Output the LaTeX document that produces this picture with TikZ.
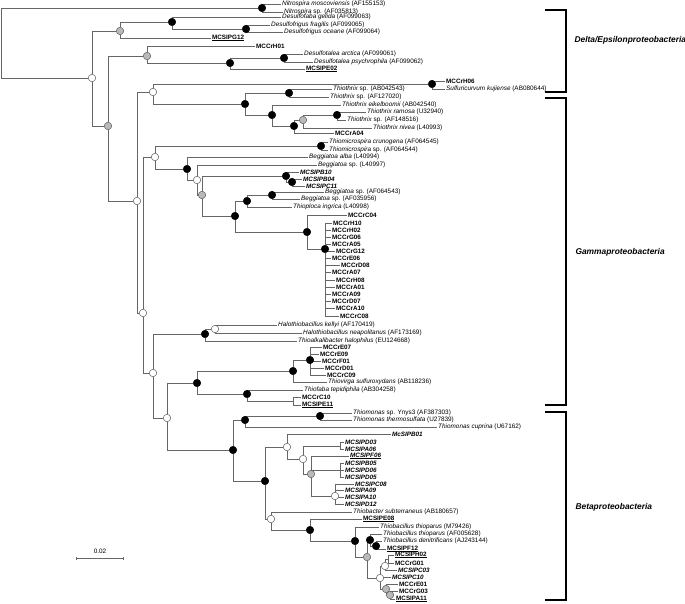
\documentclass[tikz,border=0pt]{standalone}
\usepackage{fontspec}
\setmainfont{Liberation Sans}
\usetikzlibrary{backgrounds,arrows.meta}

\tikzset{
  % ----- forks, filled by support
  fork/.style={circle, inner sep=0pt, minimum size=7.5pt, line width=0.5pt},
  fullfork/.style={fork, draw=black, fill=black},
  greyfork/.style={fork, draw=gray!70!black, fill=gray!55},
  openfork/.style={fork, draw=gray!70!black, fill=white},
  % ----- leaf labels
  taxon/.style={anchor=west, inner sep=1pt, font=\fontsize{6.4}{7}\selectfont},
  clone/.style={taxon, font=\fontsize{6.3}{7}\selectfont\bfseries},
  sipclone/.style={taxon, font=\fontsize{6.3}{7}\selectfont\bfseries\itshape},
  branch/.style={draw=gray!80!black, line width=0.7pt}
}
\newcommand{\gen}[1]{\textit{#1}}

\begin{document}
\begin{tikzpicture}[x=1pt, y=-1pt,
    group/.style={draw=black, line width=1.1pt},
    grouplab/.style={anchor=west, font=\fontsize{8.4}{9}\selectfont\bfseries\itshape}]
  \useasboundingbox (0,0) rectangle (685,604);

  % root and Delta/Epsilon
  \coordinate (root) at (1,42);
  \node[fullfork] (nitro) at (262,8) {};
  \node[openfork] (nA) at (92,78) {};
  \node[greyfork] (nDes) at (120,31) {};
  \node[fullfork] (nDes1) at (172,22) {};
  \node[fullfork] (nDes2) at (246,29) {};
  \node[greyfork] (nB) at (108,126) {};
  \node[greyfork] (nC) at (147,56) {};
  \node[fullfork] (nTal) at (230,63) {};
  \node[fullfork] (nTal2) at (284,58) {};
  \node[openfork] (nD) at (137,201) {};
  \node[openfork] (nE) at (153,92) {};
  \node[fullfork] (nSulf) at (432,84) {};

  \node[taxon] (tNmos) at (281,4) {\gen{Nitrospira moscoviensis} (AF155153)};
  \node[taxon] (tNsp) at (283,12) {\gen{Nitrospira} sp. (AF035813)};
  \node[taxon] (tDgel) at (281,17) {\gen{Desulfofaba gelida} (AF099063)};
  \node[taxon] (tDfra) at (270,25) {\gen{Desulfofrigus fragilis} (AF099065)};
  \node[taxon] (tDoce) at (283,32) {\gen{Desulfofrigus oceane} (AF099064)};
  \node[clone] (cG12) at (211,38) {\underline{MCSIPG12}};
  \node[clone] (cH01) at (255,46) {MCCrH01};
  \node[taxon] (tDarc) at (303,54) {\gen{Desulfotalea arctica} (AF099061)};
  \node[taxon] (tDpsy) at (313,62) {\gen{Desulfotalea psychrophila} (AF099062)};
  \node[clone] (cE02) at (305,69) {\underline{MCSIPE02}};
  \node[clone] (cH06) at (445,81) {MCCrH06};
  \node[taxon] (tSku) at (445,89) {\gen{Sulfuricurvum kujiense} (AB080644)};

  % Thiothrix
  \node[fullfork] (nTt) at (245,104) {};
  \node[fullfork] (nTt1) at (289,93) {};
  \node[fullfork] (nTt2) at (272,115) {};
  \node[fullfork] (nTt3) at (294,126) {};
  \node[greyfork] (nTt4) at (303,120) {};
  \node[fullfork] (nTt5) at (337,115) {};
  \node[taxon] (tTab) at (332,89) {\gen{Thiothrix} sp. (AB042543)};
  \node[taxon] (tTaf) at (329,97) {\gen{Thiothrix} sp. (AF127020)};
  \node[taxon] (tTeik) at (341,105) {\gen{Thiothrix eikelboomii} (AB042540)};
  \node[taxon] (tTram) at (366,112) {\gen{Thiothrix ramosa} (U32940)};
  \node[taxon] (tTsp) at (346,120) {\gen{Thiothrix} sp. (AF148516)};
  \node[taxon] (tTniv) at (372,128) {\gen{Thiothrix nivea} (L40993)};
  \node[clone] (cA04) at (334,133) {MCCrA04};

  % Gamma
  \node[openfork] (nI) at (143,313) {};
  \node[openfork] (nJ) at (155,157) {};
  \node[fullfork] (nMic) at (321,146) {};
  \node[fullfork] (nBg) at (187,169) {};
  \node[openfork] (nBg2) at (197,180) {};
  \node[greyfork] (nBg3) at (202,195) {};
  \node[fullfork] (nSIP) at (286,176) {};
  \node[fullfork] (nSIP2) at (292,182) {};
  \node[fullfork] (nBg4) at (235,216) {};
  \node[fullfork] (nBg5) at (247,201) {};
  \node[fullfork] (nBg6) at (272,195) {};
  \node[fullfork] (nCr) at (307,232) {};
  \node[fullfork] (nCr2) at (325,249) {};
  \node[taxon] (tMcru) at (328,142) {\gen{Thiomicrospira crunogena} (AF064545)};
  \node[taxon] (tMsp) at (328,150) {\gen{Thiomicrospira} sp. (AF064544)};
  \node[taxon] (tBalb) at (308,157) {\gen{Beggiatoa alba} (L40994)};
  \node[taxon] (tB997) at (317,165) {\gen{Beggiatoa} sp. (L40997)};
  \node[sipclone] (sB10) at (299,172) {MCSIPB10};
  \node[sipclone] (sB04) at (302,179) {MCSIPB04};
  \node[sipclone] (sC11) at (305,186) {MCSIPC11};
  \node[taxon] (tB543) at (324,192) {\gen{Beggiatoa} sp. (AF064543)};
  \node[taxon] (tB956) at (300,199) {\gen{Beggiatoa} sp. (AF035956)};
  \node[taxon] (tTpl) at (292,207) {\gen{Thioploca ingrica} (L40998)};
  \node[clone] (cC04) at (347,215) {MCCrC04};
  \foreach \lab/\x/\y [count=\i] in {H10/332/223, H02/331/230, G06/331/237,
      A05/331/244, G12/335/251, E06/331/258, D08/340/265, A07/331/272,
      H08/335/280, A01/335/287, A09/331/294, D07/331/301, A10/335/308, C08/339/316}
    \node[clone] (cr\i) at (\x,\y) {MCCr\lab};

  \node[openfork] (nL) at (153,373) {};
  \node[fullfork] (nHal) at (205,334) {};
  \node[openfork] (nHal2) at (215,329) {};
  \node[openfork] (nN) at (167,418) {};
  \node[fullfork] (nO) at (197,383) {};
  \node[fullfork] (nVg) at (293,371) {};
  \node[fullfork] (nVg2) at (310,360) {};
  \node[fullfork] (nR) at (247,394) {};
  \coordinate (nR2) at (293,401);
  \node[taxon] (tHkel) at (277,325) {\gen{Halothiobacillus kellyi} (AF170419)};
  \node[taxon] (tHnea) at (302,333) {\gen{Halothiobacillus neapolitanus} (AF173169)};
  \node[taxon] (tTalk) at (297,341) {\gen{Thioalkalibacter halophilus} (EU124668)};
  \foreach \lab/\x/\y [count=\i] in {E07/322/347, E09/319/354, F01/321/361,
      D01/324/368, C09/326/375}
    \node[clone] (cv\i) at (\x,\y) {MCCr\lab};
  \node[taxon] (tTvir) at (327,382) {\gen{Thiovirga sulfuroxydans} (AB118236)};
  \node[taxon] (tTfab) at (303,390) {\gen{Thiofaba tepidiphila} (AB304258)};
  \node[clone] (cC10) at (301,397) {MCCrC10};
  \node[clone] (cE11) at (301,405) {\underline{MCSIPE11}};

  % Beta
  \node[fullfork] (nP) at (233,450) {};
  \node[fullfork] (nTm) at (245,420) {};
  \node[fullfork] (nTm2) at (320,416) {};
  \node[fullfork] (nU) at (265,481) {};
  \node[openfork] (nV) at (287,447) {};
  \node[openfork] (nX) at (303,459) {};
  \coordinate (nX2) at (340,446);
  \node[greyfork] (nY) at (311,474) {};
  \coordinate (nY2) at (340,470);
  \node[openfork] (nZ) at (335,496) {};
  \node[openfork] (nW) at (271,519) {};
  \node[fullfork] (nAA) at (310,530) {};
  \node[fullfork] (nBB) at (355,541) {};
  \node[greyfork] (nCC) at (367,557) {};
  \node[fullfork] (nEE) at (370,540) {};
  \node[fullfork] (nFF) at (376,546) {};
  \node[openfork] (nHH) at (380,578) {};
  \node[openfork] (nII) at (385,566) {};
  \coordinate (nKK) at (388,559);
  \node[greyfork] (nJJ) at (386,589) {};
  \node[greyfork] (nLL) at (390,595) {};

  \node[taxon] (tTmy) at (352,413) {\gen{Thiomonas} sp. Ynys3 (AF387303)};
  \node[taxon] (tTmt) at (352,420) {\gen{Thiomonas thermosulfata} (U27839)};
  \node[taxon] (tTmc) at (437,427) {\gen{Thiomonas cuprina} (U67162)};
  \node[sipclone] (sB01) at (391,434) {McSIPB01};
  \foreach \lab/\y [count=\i] in {D03/442, A06/449}
    \node[sipclone] (sx\i) at (344,\y) {MCSIP\lab};
  \node[sipclone] (sF06) at (349,456) {\underline{MCSIPF06}};
  \foreach \lab/\y [count=\i] in {B05/463, D06/470, D05/477}
    \node[sipclone] (sy\i) at (344,\y) {MCSIP\lab};
  \foreach \lab/\x/\y [count=\i] in {C08/354/484, A09/344/490, A10/344/497, D12/344/504}
    \node[sipclone] (sz\i) at (\x,\y) {MCSIP\lab};
  \node[taxon] (tTbs) at (352,512) {\gen{Thiobacter subterraneus} (AB180657)};
  \node[clone] (cE08) at (362,519) {\underline{MCSIPE08}};
  \node[taxon] (tTbm) at (379,527) {\gen{Thiobacillus thioparus} (M79426)};
  \node[taxon] (tTba) at (382,534) {\gen{Thiobacillus thioparus} (AF005628)};
  \node[taxon] (tTbd) at (382,541) {\gen{Thiobacillus denitrificans} (AJ243144)};
  \node[clone] (cF12) at (386,549) {\underline{MCSIPF12}};
  \node[clone] (cH02) at (394,555) {\underline{MCSIPH02}};
  \node[clone] (cG01) at (394,563) {MCCrG01};
  \node[sipclone] (sC03) at (397,570) {MCSIPC03};
  \node[sipclone] (sC10) at (391,577) {MCSIPC10};
  \node[clone] (cE01) at (398,584) {MCCrE01};
  \node[clone] (cG03) at (398,591) {MCCrG03};
  \node[clone] (cA11) at (395,599) {\underline{MCSIPA11}};

  % branches
  \begin{scope}[on background layer]
    \foreach \p/\c in {root/nitro, root/nA, nitro/tNmos, nitro/tNsp,
        nA/nDes, nA/nB, nDes/nDes1, nDes/cG12, nDes1/tDgel, nDes1/nDes2,
        nDes2/tDfra, nDes2/tDoce, nB/nC, nB/nD, nC/cH01, nC/nTal,
        nTal/nTal2, nTal/cE02, nTal2/tDarc, nTal2/tDpsy, nD/nE, nD/nI,
        nE/nSulf, nE/nTt, nSulf/cH06, nSulf/tSku,
        nTt/nTt1, nTt/nTt2, nTt1/tTab, nTt1/tTaf, nTt2/tTeik, nTt2/nTt3,
        nTt3/nTt4, nTt3/cA04, nTt4/nTt5, nTt4/tTniv, nTt5/tTram, nTt5/tTsp,
        nI/nJ, nI/nL, nJ/nMic, nJ/nBg, nMic/tMcru, nMic/tMsp,
        nBg/tBalb, nBg/nBg2, nBg2/tB997, nBg2/nBg3, nBg3/nSIP, nBg3/nBg4,
        nSIP/sB10, nSIP/nSIP2, nSIP2/sB04, nSIP2/sC11,
        nBg4/nBg5, nBg4/nCr, nBg5/nBg6, nBg5/tTpl, nBg6/tB543, nBg6/tB956,
        nCr/cC04, nCr/nCr2,
        nL/nHal, nL/nN, nHal/nHal2, nHal/tTalk, nHal2/tHkel, nHal2/tHnea,
        nN/nO, nN/nP, nO/nVg, nO/nR, nVg/nVg2, nVg/tTvir,
        nR/tTfab, nR/nR2, nR2/cC10, nR2/cE11,
        nP/nTm, nP/nU, nTm/nTm2, nTm/tTmc, nTm2/tTmy, nTm2/tTmt,
        nU/nV, nU/nW, nV/sB01, nV/nX, nX/nX2, nX/nY,
        nY/sF06, nY/nY2, nY/nZ, nW/tTbs, nW/nAA, nAA/cE08, nAA/nBB,
        nBB/tTbm, nBB/nCC, nCC/nEE, nCC/nHH, nEE/tTba, nEE/nFF,
        nFF/tTbd, nFF/cF12, nHH/nII, nHH/sC10, nHH/nJJ,
        nII/nKK, nII/sC03, nKK/cH02, nKK/cG01, nJJ/cE01, nJJ/nLL,
        nLL/cG03, nLL/cA11}
      \draw[branch] (\p) |- (\c);
    \foreach \i in {1,...,14} \draw[branch] (nCr2) |- (cr\i);
    \foreach \i in {1,...,5} \draw[branch] (nVg2) |- (cv\i);
    \foreach \i in {1,2} \draw[branch] (nX2) |- (sx\i);
    \foreach \i in {1,2,3} \draw[branch] (nY2) |- (sy\i);
    \foreach \i in {1,...,4} \draw[branch] (nZ) |- (sz\i);
  \end{scope}

  % groups
  \coordinate (dTop) at (545,10);
  \coordinate (dBot) at (545,92);
  \coordinate (gTop) at (545,98);
  \coordinate (gBot) at (545,405);
  \coordinate (bTop) at (545,412);
  \coordinate (bBot) at (545,600);
  \draw[group] (dTop) -- ++(21,0) |- (dBot);
  \draw[group] (gTop) -- ++(21,0) |- (gBot);
  \draw[group] (bTop) -- ++(21,0) |- (bBot);
  \node[grouplab] (lDelta) at (571,40) {Delta/Epsilonproteobacteria};
  \node[grouplab] (lGamma) at (572,252) {Gammaproteobacteria};
  \node[grouplab] (lBeta) at (572,507) {Betaproteobacteria};

  % scale
  \coordinate (sbL) at (76,558);
  \coordinate (sbR) at (124,558);
  \draw[branch, {Bar[width=3pt]}-{Bar[width=3pt]}] (sbL) -- (sbR);
  \node[font=\fontsize{6.4}{7}\selectfont] (sbT) at (100,551) {0.02};
\end{tikzpicture}
\end{document}
